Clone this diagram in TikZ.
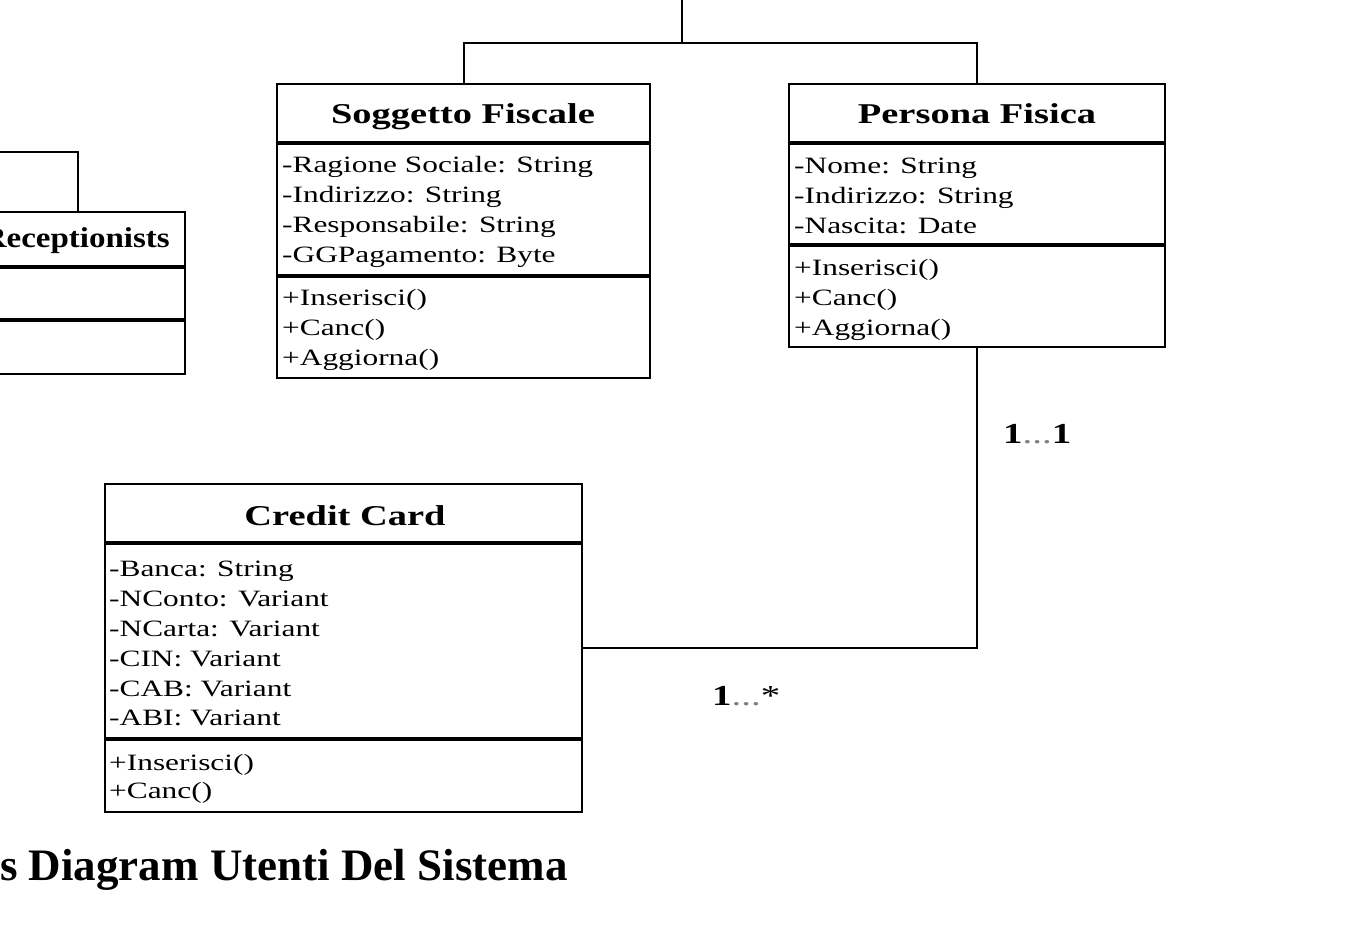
\documentclass[tikz,border=0pt]{standalone}
\usepackage{fontspec}
\setmainfont{Liberation Serif}
\newfontfamily\umlfont[FakeStretch=1.34]{Liberation Serif}
\newfontfamily\umlnarrow[FakeStretch=1.15]{Liberation Serif}
\begin{document}
\begin{tikzpicture}[x=1pt,y=-1pt,
  box/.style={draw,line width=2pt,rectangle,inner sep=0pt,outer sep=0pt,anchor=north west},
  divider/.style={line width=3.5pt},
  conn/.style={line width=2pt},
  attr/.style={anchor=base west,inner sep=0pt,font=\umlfont\fontsize{23.4}{28}\selectfont},
  ttl/.style={anchor=base,inner sep=0pt,font=\umlfont\bfseries\fontsize{28.7}{34}\selectfont},
  mult/.style={anchor=base west,inner sep=0pt,font=\umlfont\fontsize{29}{34}\selectfont},
  caption/.style={anchor=base west,inner sep=0pt,font=\bfseries\fontsize{45}{54}\selectfont}]
\useasboundingbox[fill=white] (0,0) rectangle (1372,930);

% class boxes
\node[box,minimum width=373pt,minimum height=294pt] (sf) at (277,84) {};
\node[box,minimum width=376pt,minimum height=263pt] (pf) at (789,84) {};
\node[box,minimum width=195pt,minimum height=162pt] (rc) at (-10,212) {};
\node[box,minimum width=477pt,minimum height=328pt] (cc) at (105,484) {};

% compartment dividers
\draw[divider] (277,143) -- (650,143);
\draw[divider] (277,276) -- (650,276);
\draw[divider] (789,143) -- (1165,143);
\draw[divider] (789,245) -- (1165,245);
\draw[divider] (-10,267) -- (185,267);
\draw[divider] (-10,320) -- (185,320);
\draw[divider] (105,543) -- (582,543);
\draw[divider] (105,739) -- (582,739);

% titles
\node[ttl] (sft) at (463,123) {Soggetto Fiscale};
\node[ttl] (pft) at (977,123) {Persona Fisica};
\node[ttl,anchor=base east,font=\umlnarrow\bfseries\fontsize{28.7}{34}\selectfont] (rct) at (170,247) {Receptionists};
\node[ttl] (cct) at (345,525) {Credit Card};

% Soggetto Fiscale
\node[attr] (sfa1) at (282,172) {-Ragione Sociale: String};
\node[attr] (sfa2) at (282,202) {-Indirizzo: String};
\node[attr] (sfa3) at (282,232) {-Responsabile: String};
\node[attr] (sfa4) at (282,262) {-GGPagamento: Byte};
\node[attr] (sfm1) at (282,305) {+Inserisci()};
\node[attr] (sfm2) at (282,335) {+Canc()};
\node[attr] (sfm3) at (282,365) {+Aggiorna()};

% Persona Fisica
\node[attr] (pfa1) at (794,173) {-Nome: String};
\node[attr] (pfa2) at (794,203) {-Indirizzo: String};
\node[attr] (pfa3) at (794,233) {-Nascita: Date};
\node[attr] (pfm1) at (794,275) {+Inserisci()};
\node[attr] (pfm2) at (794,305) {+Canc()};
\node[attr] (pfm3) at (794,335) {+Aggiorna()};

% Credit Card
\node[attr] (cca1) at (109,576) {-Banca: String};
\node[attr] (cca2) at (109,606) {-NConto: Variant};
\node[attr] (cca3) at (109,636) {-NCarta: Variant};
\node[attr] (cca4) at (109,666) {-CIN: Variant};
\node[attr] (cca5) at (109,696) {-CAB: Variant};
\node[attr] (cca6) at (109,725) {-ABI: Variant};
\node[attr] (ccm1) at (109,770) {+Inserisci()};
\node[attr] (ccm2) at (109,798) {+Canc()};

% connectors
\coordinate (topend) at (682,0);
\coordinate (junc) at (682,43);
\draw[conn] (topend) -- (junc);
\draw[conn] (sf.north) |- (junc) -| (pf.north);
\coordinate (rcend) at (-10,152);
\coordinate (rctop) at (78,212);
\draw[conn] (rcend) -| (rctop);
\draw[conn] (pf.south) |- (cc.east);

% multiplicities
\node[mult] (m1) at (1003,443) {\textbf{1}\textcolor{gray}{...}\textbf{1}};
\node[mult] (m2) at (712,705) {\textbf{1}\textcolor{gray}{...}*};

% caption
\node[caption] (cap) at (0,880) {s Diagram Utenti Del Sistema};
\end{tikzpicture}
\end{document}
